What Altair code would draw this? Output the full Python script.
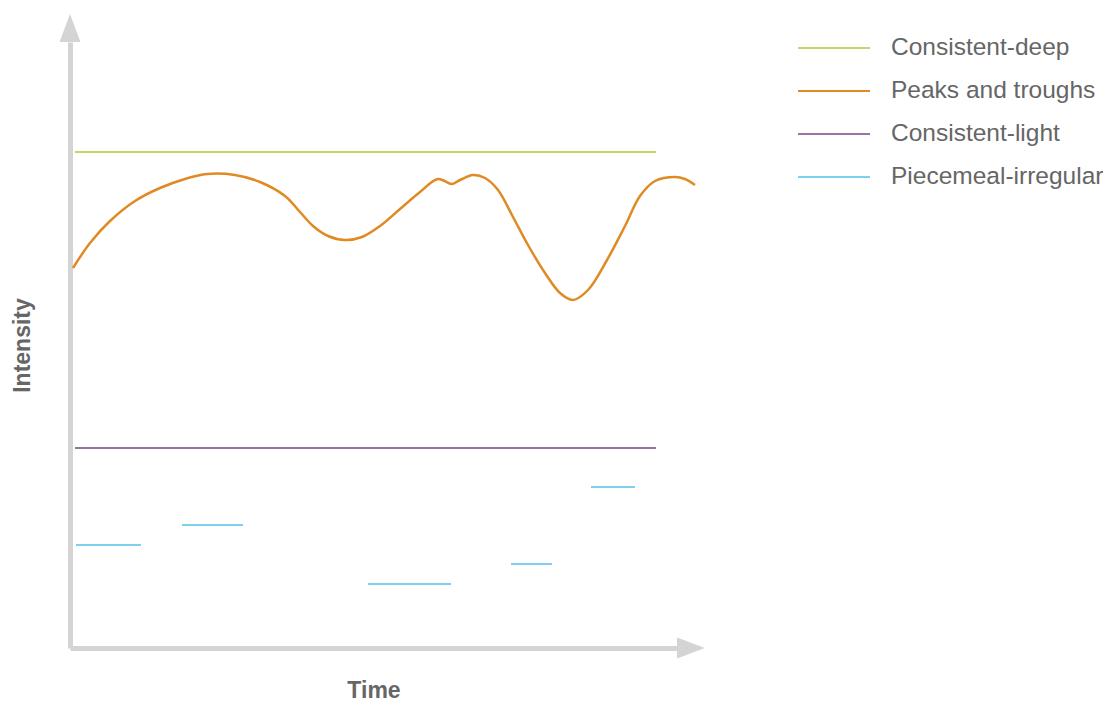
import altair as alt
import pandas as pd

# ---- data (x: time units, y: intensity units) ----
series_order = ["Consistent-deep", "Peaks and troughs", "Consistent-light", "Piecemeal-irregular"]
series_colors = ["#c3d669", "#df8a22", "#9a72a8", "#7fd0f0"]

X_MAX = 607
Y_MAX = 606

deep_x = [5, 586]
deep_y = [496, 496]

light_x = [5, 586]
light_y = [200, 200]

peaks_x = [3, 20, 40, 65, 90, 115, 137, 165, 190, 215, 230, 243, 258, 275, 292, 310, 330, 350, 368, 382,
           390, 403, 415, 428, 443, 458, 475, 490, 503, 518, 537, 555, 570, 585, 605, 615, 625]
peaks_y = [380, 405, 427, 447, 460, 469, 474, 473, 466, 452, 436, 422, 412, 408, 411, 422, 439, 456, 469, 464,
           468, 473, 470, 458, 431, 403, 375, 355, 348, 358, 388, 422, 452, 467, 471, 469, 463]

piece_seg = [1, 1, 2, 2, 3, 3, 4, 4, 5, 5]
piece_x = [6, 71, 112, 173, 298, 381, 441, 482, 521, 565]
piece_y = [103, 103, 123, 123, 64, 64, 84, 84, 161, 161]

# ---- tables ----
straight = pd.concat([
    pd.DataFrame({"series": "Consistent-deep", "seg": 0, "x": deep_x, "y": deep_y}),
    pd.DataFrame({"series": "Consistent-light", "seg": 0, "x": light_x, "y": light_y}),
    pd.DataFrame({"series": "Piecemeal-irregular", "seg": piece_seg, "x": piece_x, "y": piece_y}),
], ignore_index=True)
peaks = pd.DataFrame({"series": "Peaks and troughs", "x": peaks_x, "y": peaks_y})

AXIS_COLOR = "#d4d4d4"
TEXT_COLOR = "#666666"

x_enc = alt.X("x:Q", scale=alt.Scale(domain=[0, X_MAX], nice=False, zero=False),
              axis=alt.Axis(title="Time", domain=True, domainColor=AXIS_COLOR, domainWidth=5,
                            ticks=False, labels=False, grid=False, titleFontSize=23,
                            titleFontWeight="bold", titleColor=TEXT_COLOR, titlePadding=31,
                            titleFont="Liberation Sans"))
y_enc = alt.Y("y:Q", scale=alt.Scale(domain=[0, Y_MAX], nice=False, zero=False),
              axis=alt.Axis(title="Intensity", domain=True, domainColor=AXIS_COLOR, domainWidth=5,
                            ticks=False, labels=False, grid=False, titleFontSize=23,
                            titleFontWeight="bold", titleColor=TEXT_COLOR, titlePadding=36,
                            titleFont="Liberation Sans"))

color_enc = alt.Color("series:N",
                      scale=alt.Scale(domain=series_order, range=series_colors),
                      sort=series_order,
                      legend=alt.Legend(orient="none", legendX=751, legendY=-7, title=None,
                                        symbolType="M-3,0L3,0", symbolSize=576, symbolStrokeWidth=2,
                                        labelFontSize=24.5, labelColor=TEXT_COLOR, labelFont="Liberation Sans",
                                        labelOffset=44, rowPadding=18, padding=0, labelLimit=0))

straight_layer = alt.Chart(straight).mark_line(strokeWidth=2).encode(
    x=x_enc, y=y_enc, color=color_enc, detail="seg:N")
peaks_layer = alt.Chart(peaks).mark_line(strokeWidth=2.5, interpolate="catmull-rom").encode(
    x=x_enc, y=y_enc, color=color_enc)

up_arrow = alt.Chart(pd.DataFrame({"x": [0], "y": [Y_MAX]})).mark_point(
    shape="M0,-2L0.75,0L-0.75,0Z", size=784, filled=True, color=AXIS_COLOR, opacity=1).encode(x=x_enc, y=y_enc)
right_arrow = alt.Chart(pd.DataFrame({"x": [X_MAX], "y": [0]})).mark_point(
    shape="M2,0L0,-0.75L0,0.75Z", size=784, filled=True, color=AXIS_COLOR, opacity=1).encode(x=x_enc, y=y_enc)

chart = alt.layer(straight_layer, peaks_layer, up_arrow, right_arrow).properties(
    width=X_MAX, height=Y_MAX,
    autosize=alt.AutoSizeParams(type="none"),
    padding={"left": 62, "top": 34, "right": 426, "bottom": 59},
).configure_view(stroke=None)

chart.save("out.html", embed_options={"renderer": "svg", "actions": False})
